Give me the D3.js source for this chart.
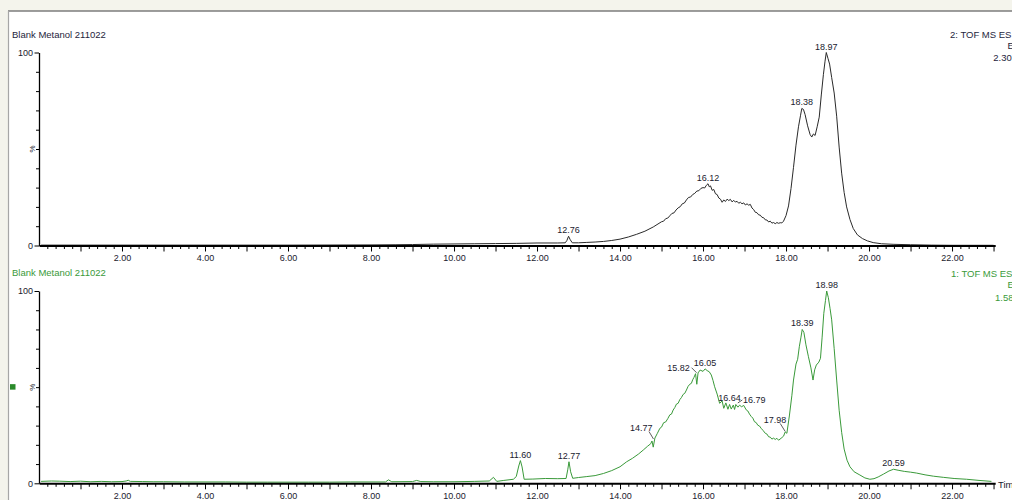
<!DOCTYPE html>
<html><head><meta charset="utf-8">
<script src="https://cdn.jsdelivr.net/npm/d3@7"></script>
<style>html,body{margin:0;padding:0;background:#f4f4ec;overflow:hidden}svg{display:block}</style>
</head><body>
<svg id="c" width="1012" height="500"></svg>
<script>
// ---------- data ----------
const sampleName = "Blank Metanol 211022";
const topHeader = ["2: TOF MS ES", "E", "2.30"];
const botHeader = ["1: TOF MS ES", "E", "1.58"];
const xTickValues = [2, 4, 6, 8, 10, 12, 14, 16, 18, 20, 22];
const xTickLabels = ["2.00", "4.00", "6.00", "8.00", "10.00", "12.00", "14.00", "16.00", "18.00", "20.00", "22.00"];
const yTickLabels = ["0", "100"];
const xAxisTitle = "Time";

// trace 2 (top): [retention time, relative intensity %]
const topTrace = [
 [0.05,0.2],[2.0,0.2],[4.0,0.2],[6.0,0.2],[8.0,0.3],[8.6,0.4],[9.0,0.5],[9.5,0.7],[10.0,0.8],[10.5,0.9],
 [11.0,1.0],[11.5,1.1],[12.0,1.3],[12.5,1.3],[12.68,1.4],[12.72,2.6],[12.76,4.8],[12.80,3.0],[12.85,1.4],
 [13.0,1.4],[13.2,1.6],[13.4,1.8],[13.6,2.1],[13.8,2.6],[14.0,3.3],[14.2,4.4],[14.4,5.8],[14.6,7.4],[14.8,9.6],
 [15.0,12.3],[15.05,12.6],[15.1,13.9],[15.15,14.2],[15.2,15.4],[15.25,16.6],[15.3,16.9],[15.35,18.4],
 [15.4,19.5],[15.45,20.1],[15.5,21.6],[15.55,22.0],[15.6,23.6],[15.65,24.9],[15.7,25.1],[15.75,26.4],
 [15.8,27.0],[15.85,28.2],[15.9,28.4],[15.95,29.6],[16.0,30.0],[16.04,29.8],[16.08,31.2],[16.12,32.0],
 [16.15,30.4],[16.18,30.9],[16.22,28.6],[16.26,29.0],[16.3,26.8],[16.34,26.4],[16.38,24.6],[16.42,24.0],
 [16.46,22.4],[16.5,23.6],[16.54,22.8],[16.58,24.0],[16.62,23.3],[16.66,23.9],[16.7,22.6],[16.74,23.4],
 [16.78,22.5],[16.82,22.9],[16.86,21.9],[16.9,22.4],[16.94,21.6],[16.98,22.1],[17.02,21.0],[17.06,21.6],
 [17.1,20.9],[17.14,21.3],[17.18,19.4],[17.22,18.6],[17.26,17.2],[17.3,17.0],[17.34,15.9],[17.38,15.7],
 [17.42,14.6],[17.46,14.4],[17.5,13.3],[17.54,13.2],[17.58,12.2],[17.62,12.6],[17.66,11.6],[17.7,11.9],
 [17.74,11.3],[17.78,11.9],[17.82,11.5],[17.86,11.8],[17.9,11.7],[17.94,12.6],[18.0,15.5],[18.06,20.5],
 [18.12,29.5],[18.18,40.5],[18.24,52.0],[18.3,61.5],[18.35,67.5],[18.38,71.0],[18.42,70.5],[18.46,67.8],
 [18.52,62.0],[18.58,57.5],[18.62,56.2],[18.66,57.8],[18.7,57.0],[18.75,61.5],[18.8,66.5],[18.85,78.0],
 [18.9,88.5],[18.94,95.5],[18.97,100],[19.01,97.0],[19.05,94.0],[19.1,87.0],[19.16,79.0],[19.22,67.0],
 [19.28,51.0],[19.34,37.5],[19.4,27.5],[19.46,20.0],[19.54,13.5],[19.62,8.8],[19.72,5.5],[19.84,3.6],
 [19.96,2.4],[20.1,1.5],[20.3,0.9],[20.6,0.6],[21.0,0.4],[21.5,0.2],[22.0,0.1],[22.5,0.1],[23.0,0.1]
];

// trace 1 (bottom): [retention time, relative intensity %]
const botTrace = [
 [0.05,1.0],[0.3,1.2],[0.5,1.1],[0.75,0.9],[1.0,1.1],[1.25,0.8],[1.5,1.0],[1.75,0.8],[2.0,0.9],[2.1,1.2],
 [2.15,1.6],[2.2,1.0],[2.5,0.9],[2.75,0.8],[3.0,0.8],[3.5,0.7],[4.0,0.7],[4.5,0.7],[5.0,0.6],[5.5,0.6],
 [6.0,0.6],[6.5,0.6],[7.0,0.6],[7.5,0.7],[8.0,0.7],[8.35,0.7],[8.42,1.8],[8.5,0.8],[9.0,0.9],[9.1,1.5],
 [9.2,0.9],[9.5,0.8],[10.0,0.8],[10.5,1.0],[10.85,1.2],[10.95,3.1],[11.03,1.0],[11.2,1.5],[11.43,2.1],
 [11.5,3.5],[11.56,9.0],[11.6,11.8],[11.64,8.5],[11.69,2.1],[11.9,2.2],[12.2,2.5],[12.5,2.4],[12.7,2.5],
 [12.74,7.0],[12.77,11.2],[12.81,6.0],[12.86,2.6],[13.0,3.0],[13.2,3.5],[13.4,4.0],[13.6,5.1],[13.8,6.6],
 [14.0,8.6],[14.16,11.2],[14.3,13.0],[14.45,15.3],[14.56,17.3],[14.66,19.2],[14.74,20.6],[14.77,22.0],
 [14.80,18.8],[14.84,23.5],[14.9,26.0],[14.96,28.6],[15.0,29.2],[15.05,31.5],[15.1,31.9],[15.15,33.6],
 [15.2,35.6],[15.24,36.0],[15.28,38.1],[15.32,39.4],[15.36,41.2],[15.4,41.6],[15.44,43.5],[15.48,44.6],
 [15.52,46.2],[15.56,46.8],[15.6,48.5],[15.64,50.4],[15.68,51.5],[15.72,52.0],[15.75,53.8],[15.78,55.0],
 [15.82,57.0],[15.85,51.5],[15.88,57.4],[15.93,58.9],[16.0,58.2],[16.05,59.5],[16.1,58.6],[16.15,58.0],
 [16.2,56.3],[16.24,53.5],[16.28,50.2],[16.34,46.4],[16.4,41.6],[16.46,42.8],[16.5,39.0],[16.55,41.8],
 [16.6,38.5],[16.64,41.0],[16.68,38.6],[16.73,40.7],[16.76,38.4],[16.79,41.0],[16.84,39.6],[16.88,40.6],
 [16.93,39.8],[16.98,40.5],[17.04,38.2],[17.08,37.6],[17.12,36.0],[17.16,34.8],[17.2,33.9],[17.24,32.0],
 [17.28,31.6],[17.32,30.2],[17.36,29.8],[17.4,28.6],[17.45,27.4],[17.5,26.0],[17.54,25.6],[17.58,24.2],
 [17.62,24.0],[17.66,23.0],[17.7,23.5],[17.74,22.8],[17.78,23.4],[17.82,22.4],[17.88,23.4],[17.94,24.5],
 [17.98,26.7],[18.02,26.0],[18.08,35.0],[18.14,45.5],[18.18,53.7],[18.24,62.0],[18.28,64.5],[18.32,71.0],
 [18.36,76.0],[18.39,80.0],[18.43,78.5],[18.48,72.0],[18.54,65.8],[18.6,60.0],[18.65,53.7],[18.69,59.0],
 [18.73,61.5],[18.79,63.0],[18.83,65.0],[18.87,76.0],[18.91,88.4],[18.95,95.0],[18.98,100],[19.02,96.5],
 [19.06,91.0],[19.1,85.0],[19.16,70.0],[19.22,53.7],[19.28,38.0],[19.34,26.5],[19.4,17.8],[19.47,12.0],
 [19.54,8.6],[19.64,6.0],[19.78,4.3],[19.9,2.8],[20.02,2.1],[20.12,2.4],[20.22,3.3],[20.35,4.8],[20.48,6.4],
 [20.59,7.3],[20.7,6.8],[20.85,6.2],[21.0,5.8],[21.15,5.3],[21.35,4.4],[21.55,3.7],[21.79,3.1],[22.05,2.5],
 [22.35,2.1],[22.65,1.5],[22.95,1.0]
];

const topPeaks = ["12.76", "16.12", "18.38", "18.97"];
const botPeaks = ["11.60", "12.77", "14.77", "15.82", "16.05", "16.64", "16.79", "17.98", "18.39", "18.98", "20.59"];

// ---------- layout / style ----------
const FONT = "'Liberation Sans', Arial, sans-serif";
const xDomain = [0, 23.04];
const xRange = [39, 995.2];
// label offsets for labels drawn with a leader line: [label dx, label dy(baseline), leader x1,y1, x2,y2] relative to point
const leaderLayout = {
  "14.77": [-10.7, -10.3, 1.5, -2, -3, -9.5],
  "15.82": [-17, -3, -4, -6, 1, -1],
  "16.79": [18.4, -1.8, 2, -1.5, 6.5, -4.5],
  "17.98": [-10.2, -9.3, 0, -0.5, -5, -8.5]
};

const svg = d3.select("#c");
svg.append("rect").attr("x", 0).attr("y", 0).attr("width", 1012).attr("height", 500).attr("fill", "#f4f4ec");
svg.append("rect").attr("x", 8.5).attr("y", 11).attr("width", 1010).attr("height", 495).attr("fill", "#ffffff");
svg.append("line").attr("x1", 8).attr("x2", 1012).attr("y1", 11).attr("y2", 11).attr("stroke", "#7d7d7d").attr("stroke-width", 1.6);
svg.append("line").attr("x1", 8.5).attr("x2", 8.5).attr("y1", 11).attr("y2", 500).attr("stroke", "#a6a6a6").attr("stroke-width", 1.2);

const x = d3.scaleLinear().domain(xDomain).range(xRange);

const panels = [
  { trace: topTrace, peaks: topPeaks, yBase: 245.5, yTop: 52.5, line: "#2a2a2a", title: "#1e1e3c",
    header: topHeader, titleY: 38, headerX: [950, 1007.5, 993.3], headerY: [37.5, 49, 61], headerColor: "#1e1e3c", marker: false },
  { trace: botTrace, peaks: botPeaks, yBase: 483.3, yTop: 291, line: "#3a9a3a", title: "#3a9a3a",
    header: botHeader, titleY: 275.5, headerX: [951, 1007.5, 995], headerY: [276.5, 288.3, 300.5], headerColor: "#3a9a3a", marker: true, axisTitle: true }
];

panels.forEach(p => {
  const y = d3.scaleLinear().domain([0, 100]).range([p.yBase, p.yTop]);
  const g = svg.append("g");

  // trace
  g.append("path").datum(p.trace)
    .attr("d", d3.line().x(d => x(d[0])).y(d => y(d[1])))
    .attr("fill", "none").attr("stroke", p.line).attr("stroke-width", 1).attr("stroke-linejoin", "round");

  // x axis minor ticks (0.2)
  const minor = d3.range(1, 116).map(i => +(i * 0.2).toFixed(2)).filter(v => v <= xDomain[1] && Math.abs(v - Math.round(v)) > 0.01);
  const gMinor = g.append("g").attr("transform", `translate(0,${p.yBase})`)
    .call(d3.axisBottom(x).tickValues(minor).tickSize(3.5).tickFormat("").tickSizeOuter(0));
  gMinor.select(".domain").remove();
  const whole = d3.range(1, 24).filter(v => v <= xDomain[1] && v % 2 === 1);
  const gMid = g.append("g").attr("transform", `translate(0,${p.yBase})`)
    .call(d3.axisBottom(x).tickValues(whole).tickSize(6).tickFormat("").tickSizeOuter(0));
  gMid.select(".domain").remove();
  const gx = g.append("g").attr("transform", `translate(0,${p.yBase})`)
    .call(d3.axisBottom(x).tickValues(xTickValues).tickSize(6).tickPadding(3)
      .tickFormat((d, i) => xTickLabels[i]).tickSizeOuter(0));
  gx.select(".domain").attr("stroke", "#000").attr("stroke-width", 2);
  gx.selectAll("text").attr("fill", "#1a1a2e").style("font-family", FONT).style("font-size", "9px");

  // y axis
  const gyMinor = g.append("g").attr("transform", `translate(${xRange[0]},0)`)
    .call(d3.axisLeft(y).tickValues(d3.range(10, 100, 10)).tickSize(3).tickFormat("").tickSizeOuter(0));
  gyMinor.select(".domain").remove();
  const gy = g.append("g").attr("transform", `translate(${xRange[0]},0)`)
    .call(d3.axisLeft(y).tickValues([0, 100]).tickSize(4.5).tickPadding(1.5)
      .tickFormat((d, i) => yTickLabels[i]).tickSizeOuter(0));
  gy.select(".domain").attr("stroke", "#000").attr("stroke-width", 1.3);
  g.selectAll(".tick line").attr("stroke", "#000").attr("stroke-width", 1);
  gy.selectAll("text").attr("fill", "#1a1a2e").style("font-family", FONT).style("font-size", "9px");

  // % label
  const midY = (p.yBase + p.yTop) / 2;
  g.append("text").attr("transform", `translate(35,${midY}) rotate(-90)`)
    .attr("text-anchor", "middle").attr("fill", "#1a1a2e")
    .style("font-family", FONT).style("font-size", "8px").text("%");
  if (p.marker) {
    g.append("rect").attr("x", 10).attr("y", midY - 3).attr("width", 5.5).attr("height", 5.5).attr("fill", "#2a8a2a");
  }

  // titles
  g.append("text").attr("x", 12).attr("y", p.titleY).attr("fill", p.title)
    .style("font-family", FONT).style("font-size", "9.5px").text(sampleName);
  p.header.forEach((h, i) => {
    g.append("text").attr("x", p.headerX[i]).attr("y", p.headerY[i]).attr("fill", p.headerColor)
      .style("font-family", FONT).style("font-size", "9.5px").text(h);
  });
  if (p.axisTitle) {
    g.append("text").attr("x", 998).attr("y", p.yBase + 5).attr("fill", "#1a1a2e")
      .style("font-family", FONT).style("font-size", "9.5px").text(xAxisTitle);
  }

  // peak labels
  p.peaks.forEach(lbl => {
    const t = +lbl;
    const pt = p.trace.reduce((a, b) => Math.abs(b[0] - t) < Math.abs(a[0] - t) ? b : a);
    const px = x(t), py = y(pt[1]);
    const lay = leaderLayout[lbl];
    if (lay && p.marker) {
      g.append("text").attr("x", px + lay[0]).attr("y", py + lay[1]).attr("text-anchor", "middle")
        .attr("fill", "#1a1a2e").style("font-family", FONT).style("font-size", "9px").text(lbl);
      g.append("line").attr("x1", px + lay[2]).attr("y1", py + lay[3]).attr("x2", px + lay[4]).attr("y2", py + lay[5])
        .attr("stroke", "#333").attr("stroke-width", 0.8);
    } else {
      g.append("text").attr("x", px).attr("y", py - 3).attr("text-anchor", "middle")
        .attr("fill", "#1a1a2e").style("font-family", FONT).style("font-size", "9px").text(lbl);
    }
  });
});
</script>
</body></html>
